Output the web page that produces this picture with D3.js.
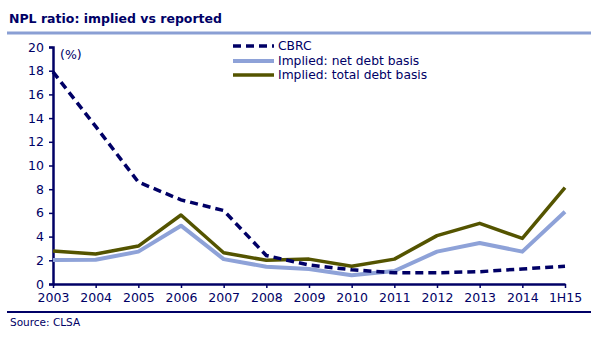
<!DOCTYPE html>
<html><head><meta charset="utf-8">
<script src="https://cdn.jsdelivr.net/npm/d3@7"></script>
<style>body{margin:0;background:#fff;}svg{display:block;font-family:"DejaVu Sans",Verdana,sans-serif;}</style>
</head><body>
<svg id="c" width="600" height="359"></svg>
<script>
const categories = ["2003","2004","2005","2006","2007","2008","2009","2010","2011","2012","2013","2014","1H15"];
const cbrc = [17.9,13.3,8.6,7.1,6.2,2.4,1.6,1.2,0.95,0.95,1.04,1.27,1.5];
const netDebt = [2.03,2.05,2.73,4.92,2.1,1.46,1.27,0.73,1.1,2.73,3.46,2.73,6.1];
const totalDebt = [2.78,2.53,3.2,5.82,2.64,2.0,2.1,1.5,2.1,4.08,5.12,3.85,8.13];
const yTicks = [0,2,4,6,8,10,12,14,16,18,20];
const seriesNames = ["CBRC","Implied: net debt basis","Implied: total debt basis"];

const navy = "#000066";
const svg = d3.select("#c");
const x = d3.scalePoint().domain(categories).range([53,565]);
const y = d3.scaleLinear().domain([0,20]).range([284,47]);

// title
svg.append("text").attr("x",9).attr("y",23).attr("fill",navy).attr("font-weight","bold")
  .attr("font-size",12.5).text("NPL ratio: implied vs reported");
svg.append("line").attr("x1",7).attr("x2",591).attr("y1",33).attr("y2",33).attr("stroke","#8a9fd4").attr("stroke-width",3);

// axes
const yAxis = d3.axisLeft(y).tickValues(yTicks).tickSize(4).tickPadding(5);
const gy = svg.append("g").attr("transform","translate(53,0)").call(yAxis);
gy.select(".domain").attr("stroke",navy).attr("stroke-width",2.5);
gy.selectAll(".tick line").attr("stroke",navy).attr("stroke-width",1.5);
gy.selectAll(".tick text").attr("fill",navy).attr("font-size",12.5).attr("font-family","DejaVu Sans");

const xAxis = d3.axisBottom(x).tickSize(4).tickPadding(5).tickSizeOuter(0);
const gx = svg.append("g").attr("transform","translate(0,284)").call(xAxis);
gx.select(".domain").attr("stroke",navy).attr("stroke-width",2.5);
gx.selectAll(".tick line").attr("stroke",navy).attr("stroke-width",1.5);
gx.selectAll(".tick text").attr("fill",navy).attr("font-size",12.5).attr("font-family","DejaVu Sans");

svg.append("text").attr("x",60).attr("y",59).attr("fill",navy).attr("font-size",12.5).text("(%)");

// lines
const line = d3.line().x((d,i)=>x(categories[i])).y(d=>y(d));
svg.append("path").datum(netDebt).attr("d",line).attr("fill","none").attr("stroke","#8ea2d8").attr("stroke-width",4).attr("stroke-linejoin","round");
svg.append("path").datum(totalDebt).attr("d",line).attr("fill","none").attr("stroke","#545400").attr("stroke-width",3.5).attr("stroke-linejoin","round");
svg.append("path").datum(cbrc).attr("d",line).attr("fill","none").attr("stroke",navy).attr("stroke-width",3.5).attr("stroke-dasharray","8,5");

// legend
const legStyles = [
  {stroke:navy,w:3.5,dash:"8,5"},
  {stroke:"#8ea2d8",w:4,dash:null},
  {stroke:"#545400",w:3.5,dash:null}
];
const legY = [46,61,75];
seriesNames.forEach((n,i)=>{
  const s = legStyles[i];
  const l = svg.append("line").attr("x1",233).attr("x2",274).attr("y1",legY[i]).attr("y2",legY[i])
    .attr("stroke",s.stroke).attr("stroke-width",s.w);
  if(s.dash) l.attr("stroke-dasharray",s.dash);
  svg.append("text").attr("x",278).attr("y",legY[i]).attr("dy","0.35em").attr("fill",navy).attr("font-size",12.3).text(n);
});

// bottom rule & source
svg.append("line").attr("x1",7).attr("x2",591).attr("y1",312).attr("y2",312).attr("stroke",navy).attr("stroke-width",2);
svg.append("text").attr("x",10).attr("y",326).attr("fill",navy).attr("font-size",10.5).text("Source: CLSA");
</script>
</body></html>
